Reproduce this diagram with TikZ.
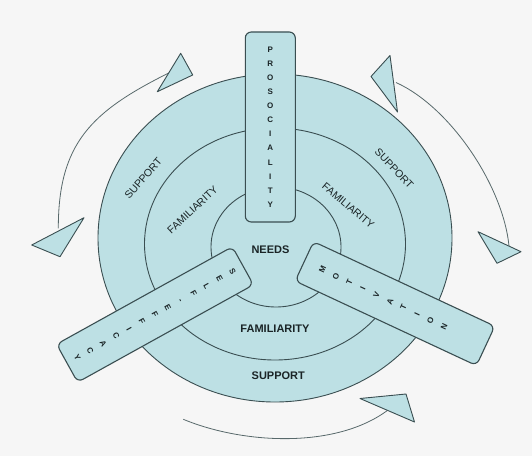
\documentclass[tikz,border=0pt]{standalone}
\usepackage{fontspec}
\setmainfont{Liberation Sans}
\usetikzlibrary{calc}
\definecolor{ringblue}{HTML}{BDE0E4}
\definecolor{ringline}{HTML}{3A4E51}
\definecolor{bggray}{HTML}{F6F6F6}
\definecolor{labelink}{HTML}{1A2426}

\begin{document}
\begin{tikzpicture}[x=1pt, y=1pt,
ring/.style={draw=ringline, fill=ringblue, line width=0.9pt},
bar/.style={draw=ringline, fill=ringblue, line width=1.1pt, rounded corners=6pt, inner sep=0pt},
letters/.style={align=center, text=labelink, inner sep=0pt},
ringlabel/.style={text=labelink, inner sep=0pt, font=\fontsize{10.5}{12}\selectfont},
boldlabel/.style={text=labelink, inner sep=0pt, font=\bfseries\fontsize{11}{13}\selectfont},
turn/.style={draw=ringline!85, line width=0.8pt},
head/.style={draw=ringline, fill=ringblue, line width=0.9pt, line join=round}
]
\fill[bggray] (0,0) rectangle (532,456);
\useasboundingbox (0,0) rectangle (532,456);

% rings
\draw[ring] (275,218) ellipse [x radius=177, y radius=164];
\draw[ring] (275,212) ellipse [x radius=130.5, y radius=116];
\draw[ring] (276,209) ellipse [x radius=65, y radius=60];

% ring labels
\node[ringlabel, rotate=49] (supl) at (143.3,277.7) {SUPPORT};
\node[ringlabel, rotate=43] (faml) at (192.5,246) {FAMILIARITY};
\node[ringlabel, rotate=-46.5] (supr) at (394.2,287.7) {SUPPORT};
\node[ringlabel, rotate=-40.2] (famr) at (348.3,250.2) {FAMILIARITY};
\node[boldlabel] (needs) at (270.5,206.7) {NEEDS};
\node[boldlabel] (famb) at (275,127.7) {FAMILIARITY};
\node[boldlabel] (supb) at (278.3,80) {SUPPORT};

% bars
\node[bar, minimum width=50, minimum height=190] (proso) at (270.3,329) {};
\node[letters, font=\bfseries\fontsize{8}{14.1}\selectfont] (prosotext) at (proso.center)
  {P\\R\\O\\S\\O\\C\\I\\A\\L\\I\\T\\Y};
\node[bar, rotate=-61, minimum width=43.5, minimum height=201] (selfeff) at (155,141.5) {};
\node[letters, rotate=-61, font=\bfseries\fontsize{8}{14.8}\selectfont] (selfefftext)
  at (selfeff.center) {S\\E\\L\\F\\-\\E\\F\\F\\I\\C\\A\\C\\Y};
\node[bar, rotate=65, minimum width=43.5, minimum height=200] (motiv) at (395,152.4) {};
\node[letters, rotate=65, font=\bfseries\fontsize{8}{14.9}\selectfont] (motivtext)
  at ($(motiv.center)!13pt!(motiv.north)$) {M\\O\\T\\I\\V\\A\\T\\I\\O\\N};

% arrow ends
\coordinate (lstart) at (168.7,383);
\coordinate (lend) at (58.3,227.7);
\coordinate (rstart) at (396,373.5);
\coordinate (rend) at (509,210);
\coordinate (bstart) at (183.3,36.7);
\coordinate (bend) at (388,46);

\draw[turn] (lstart) .. controls (91.3,344.4) and (58.3,312.7) .. (lend);
\draw[turn] (rstart) .. controls (450.7,348.7) and (503.1,269.7) .. (rend);
\draw[turn] (bstart) .. controls (243.4,11.8) and (336,7) .. (bend);

% arrow heads
\draw[head] (180.7,402.7) -- (192.7,381) -- (157.3,364.3) -- cycle;
\draw[head] (84,238.3) -- (31.7,211) -- (60,199.3) -- cycle;
\draw[head] (390,400.5) -- (371,379.5) -- (397.5,344) -- cycle;
\draw[head] (478,224.3) -- (521,204.3) -- (497,192.7) -- cycle;
\draw[head] (360,57.5) -- (406,62) -- (414.5,34) -- cycle;
\end{tikzpicture}
\end{document}
